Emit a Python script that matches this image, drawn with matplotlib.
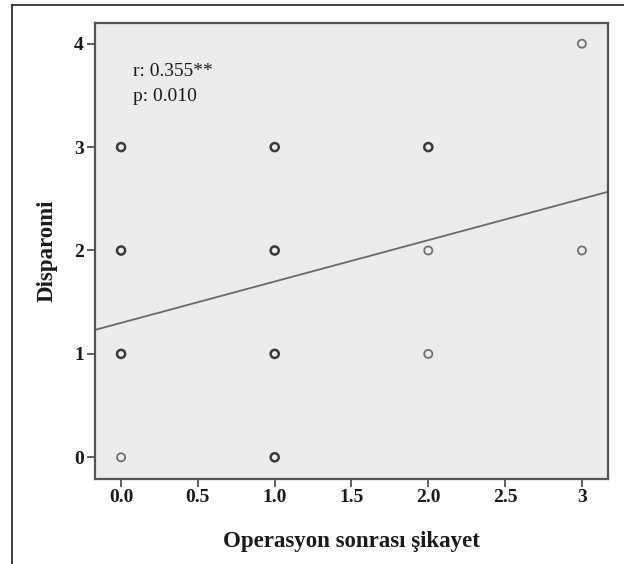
import matplotlib
matplotlib.use("Agg")
import matplotlib.pyplot as plt
from matplotlib.lines import Line2D
import numpy as np

# gözlemler (koyu daireler = üst üste binen noktalar)
x_dark = [0, 0, 0, 1, 1, 1, 1, 2]
y_dark = [1, 2, 3, 0, 1, 2, 3, 3]
x_light = [0, 2, 2, 3, 3]
y_light = [0, 1, 2, 2, 4]

# regresyon doğrusu
intercept = 1.30
slope = 0.40

xticks = [0, 0.5, 1, 1.5, 2, 2.5, 3]
xtick_labels = ["0.0", "0.5", "1.0", "1.5", "2.0", "2.5", "3"]
yticks = [0, 1, 2, 3, 4]

plt.rcParams['font.family'] = ['Liberation Serif', 'DejaVu Serif']

fig = plt.figure(figsize=(6.24, 5.64), dpi=100)
ax = fig.add_axes([0.1522, 0.1507, 0.8222, 0.8085])
ax.set_facecolor("#ececec")

xlim = (-0.17, 3.17)
ax.set_xlim(*xlim)
ax.set_ylim(-0.21, 4.2)

xs = np.array(xlim)
ax.plot(xs, intercept + slope * xs, color="#6a6a6a", lw=1.3, zorder=2)

ax.scatter(x_dark, y_dark, s=34, facecolors="none", edgecolors="#3a3a3a",
           linewidths=1.8, zorder=3)
ax.scatter(x_light, y_light, s=34, facecolors="none", edgecolors="#707070",
           linewidths=1.3, zorder=3)

ax.text(0.078, 3.73, "r: 0.355**", fontsize=14, va="center", ha="left", color="#1a1a1a")
ax.text(0.078, 3.49, "p: 0.010", fontsize=14, va="center", ha="left", color="#1a1a1a")

ax.set_xticks(xticks)
ax.set_xticklabels(xtick_labels)
ax.set_yticks(yticks)
ax.tick_params(length=6, width=1.3, color="#555555", labelsize=14)
ax.tick_params(axis="x", pad=1)
ax.tick_params(axis="y", pad=2)
for lab in ax.get_xticklabels() + ax.get_yticklabels():
    lab.set_fontweight("bold")
    lab.set_color("#1a1a1a")

for s in ax.spines.values():
    s.set_color("#555555")
    s.set_linewidth(1.6)

ax.set_xlabel("Operasyon sonrası şikayet", fontsize=16.5, fontweight="bold",
              labelpad=18, color="#1a1a1a")
ax.set_ylabel("Disparomi", fontsize=16.5, fontweight="bold", labelpad=12, color="#1a1a1a")

# dış çerçeve
fig.add_artist(Line2D([12 / 624, 12 / 624], [0, 1 - 5 / 564], color="#222222", lw=1.2))
fig.add_artist(Line2D([12 / 624, 1], [1 - 5 / 564, 1 - 5 / 564], color="#222222", lw=1.2))

fig.savefig("out.png", dpi=100, facecolor="white")
